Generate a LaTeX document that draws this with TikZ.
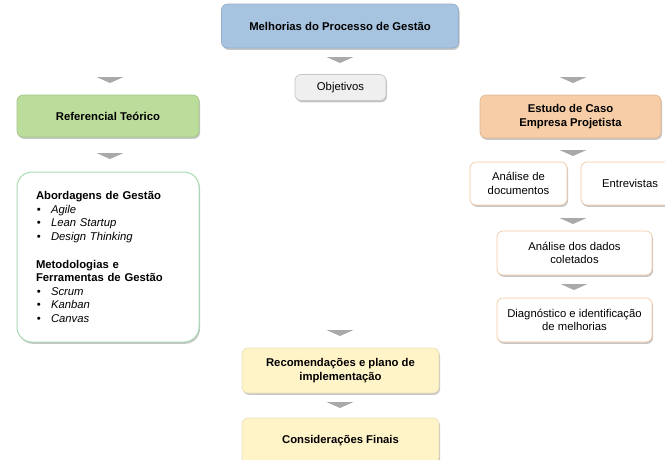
\documentclass[tikz,border=0pt]{standalone}
\usepackage{fontspec}
\setmainfont{Liberation Sans}
\usetikzlibrary{shadows}
\definecolor{azul}{HTML}{A6C3DF}
\definecolor{verde}{HTML}{BBDC9A}
\definecolor{laranja}{HTML}{F6CDA6}
\definecolor{amarelo}{HTML}{FFF3C8}
\definecolor{cinzaclaro}{HTML}{EFEFEF}
\definecolor{bordalaranja}{HTML}{F1C9A3}
\definecolor{bordaverde}{HTML}{A9DBB2}
\definecolor{seta}{HTML}{A9A9A9}
\begin{document}
\begin{tikzpicture}[x=1pt,y=-1pt, font=\fontsize{11.3}{13.6}\selectfont, line join=round, line cap=round,
	caixa/.style={rounded corners=6pt, align=center, inner sep=1pt, line width=0.7pt,
		drop shadow={shadow xshift=1pt, shadow yshift=-1.8pt, opacity=0.45}},
	titulo/.style={caixa, font=\fontsize{11.3}{13.8}\selectfont\bfseries},
	etapa/.style={caixa, draw=bordalaranja, fill=white, minimum height=44pt}]
	\clip (0,0) rectangle (665,459);
	% caixas principais
	\node[titulo, fill=azul, draw=azul!90!black, minimum width=237pt, minimum height=44pt] (melhorias) at (340,26) {Melhorias do Processo de Gestão};
	\node[caixa, fill=cinzaclaro, draw=gray!45, minimum width=91pt, minimum height=26pt] (objetivos) at (340.5,87.5) {Objetivos};
	\node[titulo, fill=verde, draw=verde!90!black, minimum width=182pt, minimum height=42pt] (referencial) at (108,116) {Referencial Teórico};
	\node[titulo, fill=laranja, draw=laranja!90!black, minimum width=181pt, minimum height=43pt] (caso) at (570.5,116.5) {Estudo de Caso\\Empresa Projetista};
	% referencial teorico
	\node[caixa, rounded corners=15pt, draw=bordaverde, line width=1pt, fill=white, minimum width=182pt, minimum height=170pt, text width=144pt, align=left] (abordagens) at (108,257)
	{\textbf{Abordagens de Gestão}\\
		\makebox[15pt][l]{\hspace{1pt}\textbullet}\textit{Agile}\\
		\makebox[15pt][l]{\hspace{1pt}\textbullet}\textit{Lean Startup}\\
		\makebox[15pt][l]{\hspace{1pt}\textbullet}\textit{Design Thinking}\\[14pt]
		\textbf{Metodologias e}\\
		\textbf{Ferramentas de Gestão}\\
		\makebox[15pt][l]{\hspace{1pt}\textbullet}\textit{Scrum}\\
		\makebox[15pt][l]{\hspace{1pt}\textbullet}\textit{Kanban}\\
		\makebox[15pt][l]{\hspace{1pt}\textbullet}\textit{Canvas}};
	% estudo de caso
	\node[etapa, minimum width=97pt, minimum height=43pt] (documentos) at (518.5,183.5) {Análise de\\documentos};
	\node[etapa, minimum width=98pt, minimum height=43pt] (entrevistas) at (630,183.5) {Entrevistas};
	\node[etapa, minimum width=155pt] (dados) at (574.5,253) {Análise dos dados\\coletados};
	\node[etapa, minimum width=155pt] (diagnostico) at (574.5,320) {Diagnóstico e identificação\\de melhorias};
	% resultados
	\node[titulo, fill=amarelo, draw=amarelo!92!black, minimum width=197pt, minimum height=45pt] (recomendacoes) at (340.5,370.5) {Recomendações e plano de\\implementação};
	\node[titulo, fill=amarelo, draw=amarelo!92!black, minimum width=197pt, minimum height=45pt] (finais) at (340.5,440.5) {Considerações Finais};
	% setas
	\foreach \x/\y in {340/57, 110/77, 573/77, 110/153, 573/150, 573/218, 574/284, 340/330, 340/402}
	\fill[seta] (\x-13.5,\y) -- (\x+13.5,\y) -- (\x,\y+6) -- cycle;
\end{tikzpicture}
\end{document}
